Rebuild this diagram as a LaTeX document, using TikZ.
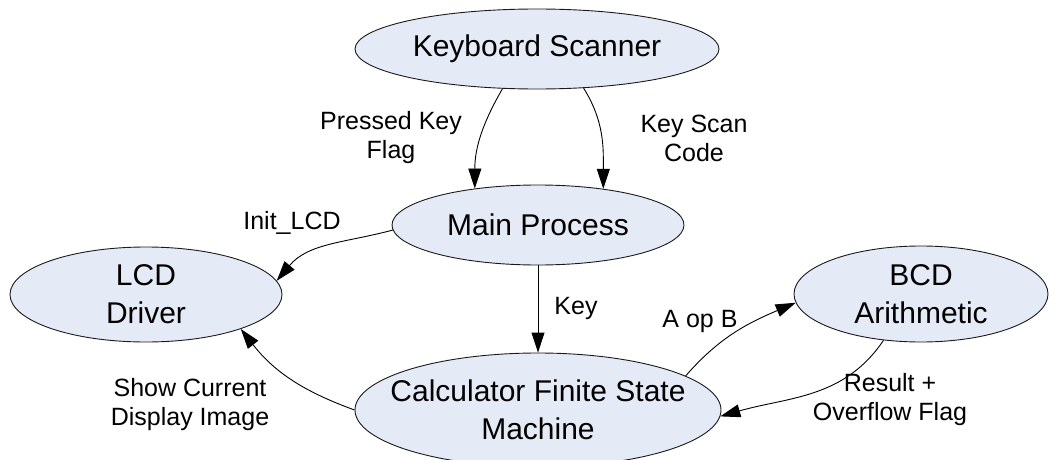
\documentclass[tikz,border=0pt]{standalone}
\usepackage{fontspec}
\setmainfont{Liberation Sans}
\usetikzlibrary{shapes.geometric,arrows.meta}
\definecolor{procfill}{HTML}{E5EBF6}
\definecolor{procline}{HTML}{1A1A1A}
\begin{document}
\begin{tikzpicture}[x=1pt,y=1pt,
  proc/.style={ellipse, draw=procline, line width=0.9pt, fill=procfill,
    inner xsep=-60pt, inner ysep=-40pt, align=center,
    font=\fontsize{30}{38}\selectfont},
  lbl/.style={align=center, inner sep=0pt, font=\fontsize{25}{29}\selectfont},
  flow/.style={draw=black, line width=0.9pt, -{Triangle[length=20pt,width=13pt]}}]

\path[use as bounding box, fill=white] (0,0) rectangle (1052,-460);

% processes
\node[proc, minimum width=364pt, minimum height=80pt]  (ks)  at (537,-49)    {Keyboard Scanner};
\node[proc, minimum width=292pt, minimum height=80pt]  (mp)  at (538,-225)   {Main Process};
\node[proc, minimum width=272pt, minimum height=95pt]  (lcd) at (146,-294.5) {LCD\\Driver};
\node[proc, minimum width=254pt, minimum height=96pt]  (bcd) at (921,-294)   {BCD\\Arithmetic};
\node[proc, minimum width=366pt, minimum height=114pt] (fsm) at (538,-410)   {Calculator Finite State\\Machine};

% data flows
\draw[flow] (ks.-131) to[out=-120,in=90] (mp.150);
\draw[flow] (ks.-40)  to[out=-58,in=90]  (mp.29);
\draw[flow] (mp.182)  to[out=195,in=50]  (lcd.6);
\draw[flow] (mp.south) -- (fsm.north);
\draw[flow] (fsm.180) to[out=160,in=-52] (lcd.-20);
\draw[flow] (fsm.13)  to[out=49,in=-157] (bcd.184);
\draw[flow] (bcd.-129) to[out=-124,in=16] (fsm.-2);

% flow labels
\node[lbl] (lpk)   at (391,-138) {Pressed Key\\Flag};
\node[lbl] (lks)   at (694,-138) {Key Scan\\Code};
\node[lbl] (linit) at (292,-223) {Init\_LCD};
\node[lbl] (lkey)  at (576,-308) {Key};
\node[lbl] (laop)  at (700,-321) {A op B};
\node[lbl] (lshow) at (190,-405) {Show Current\\Display Image};
\node[lbl] (lres)  at (890,-400) {Result +\\Overflow Flag};
\end{tikzpicture}
\end{document}
